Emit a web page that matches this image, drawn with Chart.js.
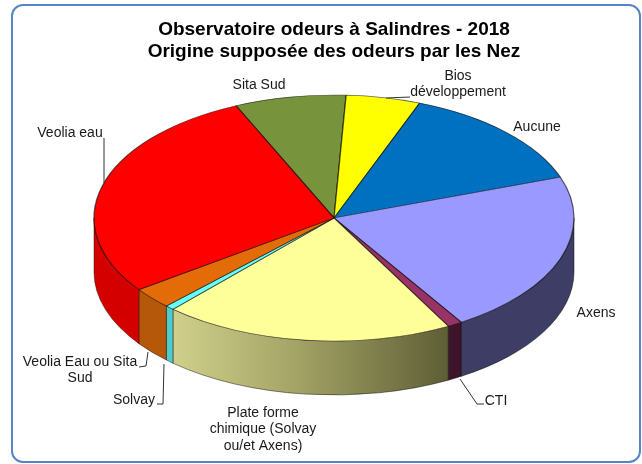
<!DOCTYPE html>
<html>
<head>
<meta charset="utf-8">
<script src="https://cdn.jsdelivr.net/npm/chart.js@4.4.1/dist/chart.umd.min.js"></script>
<style>
  html, body { margin: 0; padding: 0; background: #ffffff; overflow: hidden; }
  #wrap { position: relative; width: 642px; height: 464px; overflow: hidden; }
  #frame { position: absolute; left: 11px; top: 4px; width: 630px; height: 459px;
           border: 2px solid #5585c4; border-radius: 12px; box-sizing: border-box; }
  canvas { position: absolute; left: 0; top: 0; }
</style>
</head>
<body>
<div id="wrap">
  <div id="frame"></div>
  <canvas id="c" width="642" height="464"></canvas>
</div>
<script>
// ---- data ----
const categories = ['Sita Sud', 'Bios développement', 'Aucune', 'Axens', 'CTI',
  'Plate forme chimique (Solvay ou/et Axens)', 'Solvay', 'Veolia Eau ou Sita Sud', 'Veolia eau'];
const values = [7.5, 5.0, 13.8, 21.5, 1.0, 19.6, 0.6, 2.8, 28.2];
const topColors = ['#77933c', '#ffff00', '#0070c0', '#9999ff', '#993366', '#ffff99', '#66ffff', '#e36c09', '#ff0000'];
const sideColors = ['#5a702d', '#c0c000', '#00548f', '#3d3d66', '#3d1429', 'grad', '#4ccccc', '#b5580a', '#d40000'];
const titleLines = ['Observatoire odeurs à Salindres - 2018', 'Origine supposée des odeurs par les Nez'];

// ---- layout (not data) ----
const geo = { cx: 334, cy: 218, rx: 240, ry: 123, depth: 54 };
const labelLayout = [
  { lines: ['Sita Sud'], x: 259, y: 85 },
  { lines: ['Bios', 'développement'], x: 458, y: 76, lead: [[410, 97], [386, 98]] },
  { lines: ['Aucune'], x: 537, y: 127 },
  { lines: ['Axens'], x: 596, y: 313 },
  { lines: ['CTI'], x: 496, y: 401, lead: [[460, 379], [477, 404], [484, 404]] },
  { lines: ['Plate forme', 'chimique (Solvay', 'ou/et Axens)'], x: 263, y: 413 },
  { lines: ['Solvay'], x: 134, y: 400, lead: [[157, 404], [163, 404], [164, 364]] },
  { lines: ['Veolia Eau ou Sita', 'Sud'], x: 80, y: 362, lead: [[139, 367], [146, 366], [148, 352]] },
  { lines: ['Veolia eau'], x: 70, y: 133, lead: [[104, 138], [104, 183]] }
];

const pie3d = {
  id: 'pie3d',
  beforeDatasetsDraw(chart) {
    const ctx = chart.ctx;
    const meta = chart.getDatasetMeta(0);
    const { cx, cy, rx, ry, depth } = geo;
    meta.data.forEach((arc, i) => {
      let a0 = arc.startAngle, a1 = arc.endAngle;
      const TWO = Math.PI * 2;
      while (a0 < 0) { a0 += TWO; a1 += TWO; }
      while (a0 >= TWO) { a0 -= TWO; a1 -= TWO; }
      const ranges = [[0, Math.PI], [TWO, TWO + Math.PI]];
      ranges.forEach(([r0, r1]) => {
        const s = Math.max(a0, r0), e = Math.min(a1, r1);
        if (e <= s) return;
        ctx.save();
        ctx.beginPath();
        ctx.ellipse(cx, cy, rx, ry, 0, s, e, false);
        ctx.lineTo(cx + rx * Math.cos(e), cy + ry * Math.sin(e) + depth);
        ctx.ellipse(cx, cy + depth, rx, ry, 0, e, s, true);
        ctx.closePath();
        let fill = sideColors[i];
        if (fill === 'grad') {
          const x0 = cx + rx * Math.cos(e), x1 = cx + rx * Math.cos(s);
          const g = ctx.createLinearGradient(x0, 0, x1, 0);
          g.addColorStop(0, '#d0d08c');
          g.addColorStop(0.45, '#a3a366');
          g.addColorStop(1, '#5e5e36');
          fill = g;
        }
        ctx.fillStyle = fill;
        ctx.fill();
        ctx.lineWidth = 0.8;
        ctx.strokeStyle = 'rgba(0,0,0,0.55)';
        ctx.stroke();
        ctx.restore();
      });
    });
    const a = meta.data[0];
    const R = a.outerRadius;
    ctx.save();
    ctx.translate(cx, cy);
    ctx.scale(rx / R, ry / R);
    ctx.translate(-a.x, -a.y);
  },
  afterDatasetsDraw(chart) {
    chart.ctx.restore();
  },
  afterDraw(chart) {
    const ctx = chart.ctx;
    ctx.save();
    ctx.font = '14px "Liberation Sans", Arial, sans-serif';
    ctx.fillStyle = '#1a1a1a';
    ctx.textAlign = 'center';
    ctx.textBaseline = 'middle';
    labelLayout.forEach(l => {
      l.lines.forEach((t, k) => ctx.fillText(t, l.x, l.y + k * 16.5));
      if (l.lead) {
        ctx.beginPath();
        ctx.moveTo(l.lead[0][0], l.lead[0][1]);
        for (let k = 1; k < l.lead.length; k++) ctx.lineTo(l.lead[k][0], l.lead[k][1]);
        ctx.strokeStyle = '#333333';
        ctx.lineWidth = 1;
        ctx.stroke();
      }
    });
    ctx.restore();
  }
};

const startDeg = 245.9;
new Chart(document.getElementById('c'), {
  type: 'pie',
  data: {
    labels: categories,
    datasets: [{
      data: values,
      backgroundColor: topColors,
      borderColor: 'rgba(0,0,0,0.6)',
      borderWidth: 0.8
    }]
  },
  options: {
    responsive: false,
    animation: false,
    events: [],
    rotation: startDeg + 90,
    layout: { padding: { left: 26, top: 0, right: 0, bottom: 60 } },
    plugins: {
      legend: { display: false },
      tooltip: { enabled: false },
      title: {
        display: true,
        text: titleLines,
        color: '#000000',
        font: { family: '"Liberation Sans", Arial, sans-serif', size: 19, weight: 'bold', lineHeight: 1.16 },
        padding: { top: 19, bottom: 40 }
      }
    }
  },
  plugins: [pie3d]
});
</script>
</body>
</html>
